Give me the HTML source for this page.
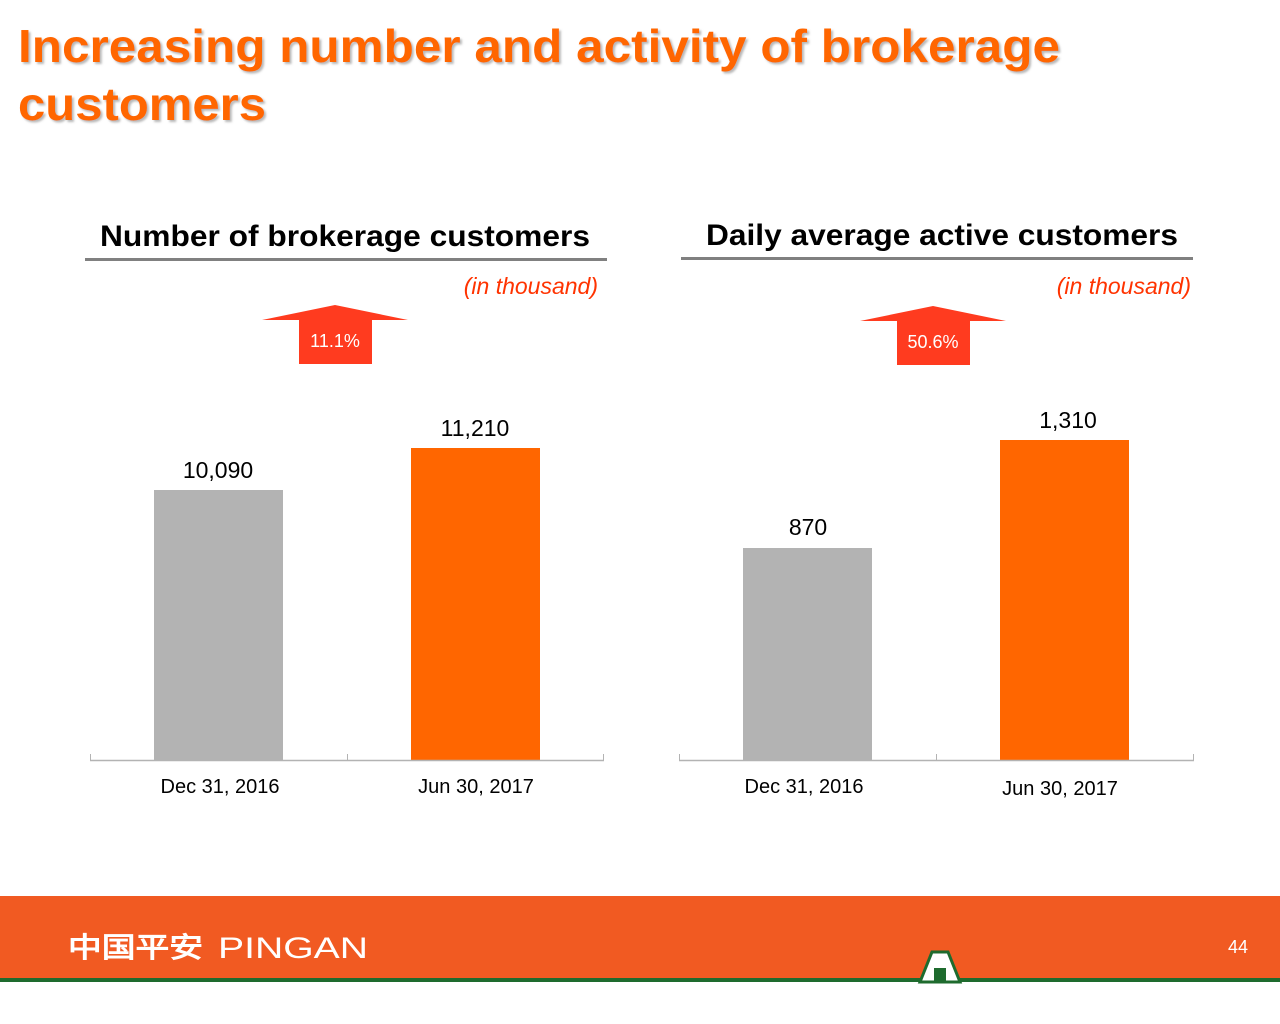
<!DOCTYPE html>
<html><head><meta charset="utf-8"><style>
html,body{margin:0;padding:0;background:#fff;}
svg{display:block;}
text{font-family:"Liberation Sans",Arial,sans-serif;}
</style></head><body>
<svg width="1280" height="1024" viewBox="0 0 1280 1024" xmlns="http://www.w3.org/2000/svg">
<defs><filter id="sh" x="-5%" y="-5%" width="110%" height="120%"><feDropShadow dx="2" dy="2" stdDeviation="1" flood-color="#888" flood-opacity="0.6"/></filter></defs>
<g fill="#ff6600" font-weight="bold" font-size="46" filter="url(#sh)">
<text x="18" y="62" textLength="1042" lengthAdjust="spacingAndGlyphs">Increasing number and activity of brokerage</text>
<text x="18" y="120" textLength="248" lengthAdjust="spacingAndGlyphs">customers</text>
</g>
<!-- left chart header -->
<text x="100" y="246" font-size="30" font-weight="bold" fill="#000" textLength="490" lengthAdjust="spacingAndGlyphs">Number of brokerage customers</text>
<rect x="85" y="258" width="522" height="3" fill="#808080"/>
<text x="598" y="294" font-size="23" font-style="italic" fill="#ff3300" text-anchor="end">(in thousand)</text>
<text x="706" y="245" font-size="30" font-weight="bold" fill="#000" textLength="472" lengthAdjust="spacingAndGlyphs">Daily average active customers</text>
<rect x="681" y="257" width="512" height="3" fill="#808080"/>
<text x="1191" y="294" font-size="23" font-style="italic" fill="#ff3300" text-anchor="end">(in thousand)</text>
<!-- arrows -->
<polygon points="262,320 335,305 408,320 372,320 372,364 299,364 299,320" fill="#ff3b1f"/>
<text x="335" y="347" font-size="18" fill="#fff" text-anchor="middle">11.1%</text>
<polygon points="860,321 933,306 1006,321 970,321 970,365 897,365 897,321" fill="#ff3b1f"/>
<text x="933" y="348" font-size="18" fill="#fff" text-anchor="middle">50.6%</text>
<!-- left bars -->
<rect x="154" y="490" width="129" height="270" fill="#b3b3b3"/>
<rect x="411" y="448" width="129" height="312" fill="#ff6600"/>
<line x1="90" y1="760.5" x2="604" y2="760.5" stroke="#b3b3b3" stroke-width="1.5"/>
<line x1="90.5" y1="754" x2="90.5" y2="761" stroke="#b3b3b3"/>
<line x1="347.5" y1="754" x2="347.5" y2="761" stroke="#b3b3b3"/>
<line x1="603.5" y1="754" x2="603.5" y2="761" stroke="#b3b3b3"/>
<text x="218" y="478" font-size="23" text-anchor="middle">10,090</text>
<text x="475" y="436" font-size="23" text-anchor="middle">11,210</text>
<text x="220" y="793" font-size="20" text-anchor="middle">Dec 31, 2016</text>
<text x="476" y="793" font-size="20" text-anchor="middle">Jun 30, 2017</text>
<!-- right bars -->
<rect x="743" y="548" width="129" height="212" fill="#b3b3b3"/>
<rect x="1000" y="440" width="129" height="320" fill="#ff6600"/>
<line x1="679" y1="760.5" x2="1194" y2="760.5" stroke="#b3b3b3" stroke-width="1.5"/>
<line x1="679.5" y1="754" x2="679.5" y2="761" stroke="#b3b3b3"/>
<line x1="936.5" y1="754" x2="936.5" y2="761" stroke="#b3b3b3"/>
<line x1="1193.5" y1="754" x2="1193.5" y2="761" stroke="#b3b3b3"/>
<text x="808" y="535" font-size="23" text-anchor="middle">870</text>
<text x="1068" y="428" font-size="23" text-anchor="middle">1,310</text>
<text x="804" y="793" font-size="20" text-anchor="middle">Dec 31, 2016</text>
<text x="1060" y="795" font-size="20" text-anchor="middle">Jun 30, 2017</text>
<!-- footer -->
<rect x="0" y="896" width="1280" height="82" fill="#f15a22"/>
<rect x="0" y="978" width="1280" height="4" fill="#1e6b2e"/>
<polygon points="920,982 932,952 948,952 960,982" fill="#fff" stroke="#1e6b2e" stroke-width="3"/>
<rect x="934" y="968" width="12" height="14" fill="#1e6b2e"/>
<text x="68" y="957" font-size="28" font-weight="bold" fill="#fff" font-family="'Liberation Sans','Noto Sans CJK SC',sans-serif" textLength="135" lengthAdjust="spacingAndGlyphs">中国平安</text>
<text x="218" y="958" font-size="30" fill="#fff" textLength="150" lengthAdjust="spacingAndGlyphs">PINGAN</text>
<text x="1248" y="953" font-size="18" fill="#fff" text-anchor="end">44</text>
</svg>
</body></html>
